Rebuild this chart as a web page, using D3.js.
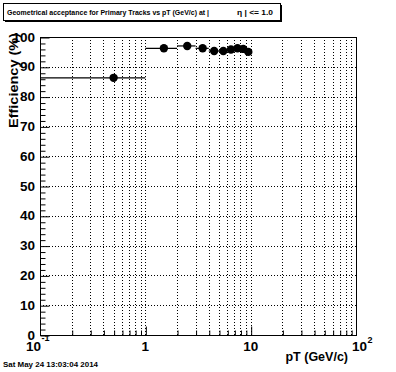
<!DOCTYPE html>
<html><head><meta charset="utf-8">
<script src="https://cdn.jsdelivr.net/npm/d3@7"></script>
<style>
html,body{margin:0;padding:0;background:#fff;}
svg{display:block;font-family:"Liberation Sans",Arial,Helvetica,sans-serif;}
</style></head>
<body>
<svg id="c" width="396" height="372"></svg>
<script>
// Data
const binLow = [0, 1, 2, 3, 4, 5, 6, 7, 8, 9];
const binHigh = [1, 2, 3, 4, 5, 6, 7, 8, 9, 10];
const binCenter = [0.5, 1.5, 2.5, 3.5, 4.5, 5.5, 6.5, 7.5, 8.5, 9.5];
const efficiency = [86.3, 96.2, 97.0, 96.2, 95.3, 95.3, 95.8, 96.2, 96.0, 95.0];
const yTicks = [0, 10, 20, 30, 40, 50, 60, 70, 80, 90, 100];
const xMajor = [0.1, 1, 10, 100];

const svg = d3.select("#c");
const L = 40, R = 356, T = 37, B = 335;
const x = d3.scaleLog().domain([0.1, 100]).range([L, R]);
const y = d3.scaleLinear().domain([0, 100]).range([B, T]);

// grid: vertical at all log ticks
const xGrid = [];
for (let d = 0.1; d < 100; d *= 10) for (let k = 1; k <= 9; k++) xGrid.push(+(d * k).toPrecision(3));
const g = svg.append("g");
g.selectAll(".vg").data(xGrid.filter(v => v > 0.1 && v < 100)).enter().append("line")
  .attr("x1", d => Math.round(x(d)) + 0.5).attr("x2", d => Math.round(x(d)) + 0.5)
  .attr("y1", T).attr("y2", B)
  .attr("stroke", "#000").attr("stroke-width", 1).attr("stroke-dasharray", "1,2");
g.selectAll(".hg").data(yTicks.filter(v => v > 0 && v < 100)).enter().append("line")
  .attr("x1", L).attr("x2", R)
  .attr("y1", d => Math.round(y(d)) + 0.5).attr("y2", d => Math.round(y(d)) + 0.5)
  .attr("stroke", "#000").attr("stroke-width", 1).attr("stroke-dasharray", "1,2");

// frame
svg.append("rect").attr("x", L + 0.5).attr("y", T + 0.5).attr("width", R - L).attr("height", B - T)
  .attr("fill", "none").attr("stroke", "#000").attr("stroke-width", 1);

// y axis ticks
const yAxis = d3.axisLeft(y).tickValues(yTicks).tickSize(-9).tickFormat("").tickSizeOuter(0);
const ya = svg.append("g").attr("transform", `translate(${L + 0.5},0.5)`).call(yAxis);
ya.select(".domain").remove();
const yMinor = d3.range(0, 101, 2).filter(v => v % 10 !== 0);
const yAxisMinor = d3.axisLeft(y).tickValues(yMinor).tickSize(-5).tickFormat("").tickSizeOuter(0);
const yam = svg.append("g").attr("transform", `translate(${L + 0.5},0.5)`).call(yAxisMinor);
yam.select(".domain").remove();
// y labels
svg.append("g").selectAll("text").data(yTicks).enter().append("text")
  .attr("x", L - 5).attr("y", d => y(d) + 4.5)
  .attr("text-anchor", "end").attr("font-size", 13.5).attr("font-weight", "bold")
  .text(d => d);

// x axis ticks
const xMinor = xGrid.filter(v => xMajor.indexOf(v) < 0);
const xa = svg.append("g").attr("transform", `translate(0.5,${B + 0.5})`)
  .call(d3.axisBottom(x).tickValues(xMajor.filter(v => v > 0.1 && v < 100)).tickSize(-9).tickFormat("").tickSizeOuter(0));
xa.select(".domain").remove();
const xam = svg.append("g").attr("transform", `translate(0.5,${B + 0.5})`)
  .call(d3.axisBottom(x).tickValues(xMinor).tickSize(-5).tickFormat("").tickSizeOuter(0));
xam.select(".domain").remove();
svg.selectAll(".tick line").attr("stroke", "#000");

// x labels
const xl = svg.append("g");
xMajor.forEach(v => {
  const e = Math.round(Math.log10(v));
  const t = xl.append("text").attr("y", 350.5).attr("font-size", 13.5).attr("font-weight", "bold");
  if (e === 0) { t.attr("x", x(v)).attr("text-anchor", "middle").text("1"); }
  else if (e === 1) { t.attr("x", x(v)).attr("text-anchor", "middle").text("10"); }
  else {
    const x0 = e < 0 ? x(v) - 14 : x(v) - 4;
    t.attr("x", x0).attr("text-anchor", "start").text("10");
    xl.append("text").attr("x", x0 + 15.5).attr("y", e < 0 ? 341 : 343).attr("font-size", 9).attr("font-weight", "bold")
      .attr("text-anchor", "start").text(e < 0 ? "-1" : e);
  }
});
svg.append("text").attr("x", 348).attr("y", 361).attr("text-anchor", "end")
  .attr("font-size", 12.5).attr("font-weight", "bold").text("pT (GeV/c)");
svg.append("text").attr("transform", "translate(18,33) rotate(-90)").attr("text-anchor", "end")
  .attr("font-size", 13.5).attr("font-weight", "bold")
  .attr("textLength", 95).attr("lengthAdjust", "spacingAndGlyphs").text("Efficiency (%)");

// error bars
const data = binCenter.map((c, i) => ({c, lo: binLow[i], hi: binHigh[i], v: efficiency[i]}));
svg.append("g").selectAll("line").data(data).enter().append("line")
  .attr("x1", d => d.lo > 0 ? x(d.lo) : L).attr("x2", d => x(d.hi))
  .attr("y1", d => y(d.v)).attr("y2", d => y(d.v))
  .attr("stroke", "#000").attr("stroke-width", 1.2);
svg.append("g").selectAll("circle").data(data).enter().append("circle")
  .attr("cx", d => x(d.c)).attr("cy", d => y(d.v)).attr("r", 4.2).attr("fill", "#000");

// title box
svg.append("rect").attr("x", 5).attr("y", 5).attr("width", 277).attr("height", 17).attr("fill", "#000");
svg.append("rect").attr("x", 3.5).attr("y", 3.5).attr("width", 277).attr("height", 17)
  .attr("fill", "#fff").attr("stroke", "#000").attr("stroke-width", 1);
svg.append("text").attr("x", 7).attr("y", 15).attr("font-size", 7.8).attr("font-weight", "bold")
  .attr("textLength", 202).attr("lengthAdjust", "spacingAndGlyphs")
  .text("Geometrical acceptance for Primary Tracks vs pT (GeV/c) at |");
svg.append("text").attr("x", 237).attr("y", 15).attr("font-size", 7.8).attr("font-weight", "bold")
  .attr("textLength", 36).attr("lengthAdjust", "spacingAndGlyphs")
  .text("η | <= 1.0");

// date
svg.append("text").attr("x", 3).attr("y", 367).attr("font-size", 8).attr("font-weight", "bold")
  .attr("textLength", 95).attr("lengthAdjust", "spacingAndGlyphs")
  .text("Sat May 24 13:03:04 2014");
</script>
</body></html>
